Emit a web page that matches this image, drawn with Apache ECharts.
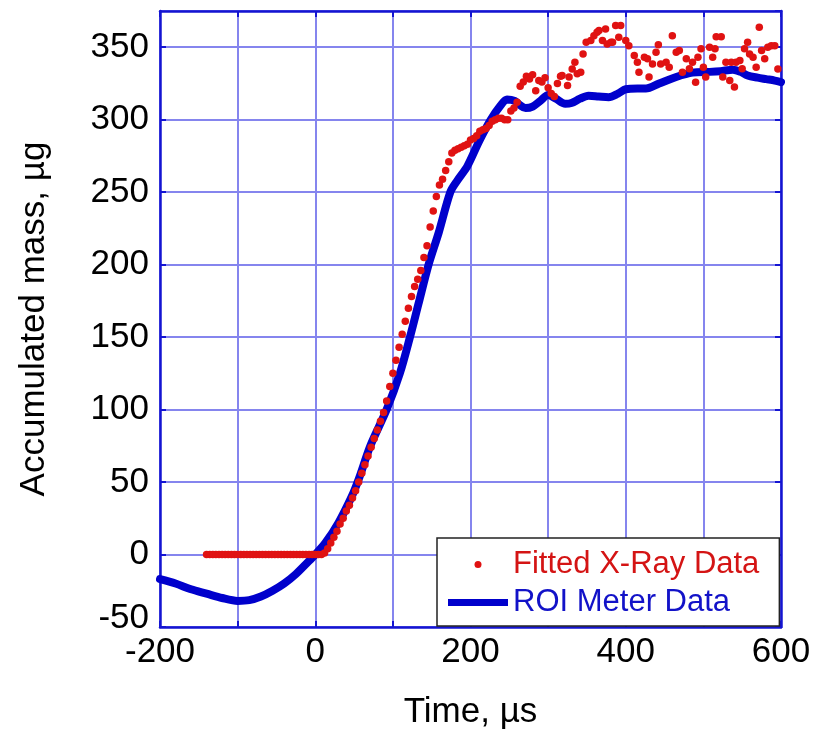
<!DOCTYPE html>
<html>
<head>
<meta charset="utf-8">
<script src="https://cdn.jsdelivr.net/npm/echarts@6/dist/echarts.min.js"></script>
<style>
html,body{margin:0;padding:0;background:#fff;}
#chart{width:817px;height:736px;}
</style>
</head>
<body>
<div id="chart"></div>
<script>
// ROI Meter Data (blue line): time (µs) and accumulated mass (µg)
var roiTime = [-200,-180,-160,-140,-120,-100,-85,-70,-55,-40,-25,-10,0,13,30,47,56,71,92,109,122,133,146,159,174,183,196,211,226,239,247,257,264,271,280,290,300,310,322,330,341,352,365,378,390,400,415,426,443,465,486,508,522,538,548,557,570,581,592,600];
var roiMass = [-17,-20,-24,-27,-30,-32,-31.5,-29,-25,-20,-13.5,-5.5,0,8,22,40,52,75,100,125,150,173,200,222,250,258,268,285,300,310,314,313,310,308,309,313,317,314.5,311,311.5,314.5,316.5,316,315.5,318,321,321.5,321.5,325,329.5,332.5,333,333.5,334.5,333,330.5,329,328,327,326];

// Fitted X-Ray Data (red dots)
var xrayTime = [-140,-136,-132,-128,-124,-120,-116,-112,-108,-104,-100,-96,-92,-88,-84,-80,-76,-72,-68,-64,-60,-56,-52,-48,-44,-40,-36,-32,-28,-24,-20,-16,-12,-8,-4,0,4,8,
  12,16,20,24,28,32,36,40,44,48,52,56,60,64,68,72,76,80,84,88,92,96,100,104,108,112,116,120,124,128,132,136,140,144,148,152,156,160,164,168,172,176,180,184,188,192,196,200,204,208,212,216,220,224,228,232,236,240,244,248,252,256,260,264,268,272,276,280,284,288,292,296,300,304,308,312,316,
  318,325,327,331,334.5,337.5,342,345,349,355,359,363,365.5,370,374,376,381,383,387,391,393.5,400,404,411,415,417,424,428,430,434.5,439,442,445,452,456,460,465,469,473,478,482,486,490,493,497,500,503,508,512,515,516.5,523,525,529,534,536,540,542,547,550,553,557,559.5,564,568,572,575,579,583,587.5,592,596];
var xrayMass = [0,0,0,0,0,0,0,0,0,0,0,0,0,0,0,0,0,0,0,0,0,0,0,0,0,0,0,0,0,0,0,0,0,0,0,0,0,0,
  1,4,8,12,16,21,25,30,34,39,44,50,56,62,68,74,80,86,92,98,106,116,125,134,143,152,161,170,178,185,190,196,205,213,226,237,247,255,259,265,271,277,279,280,281,282,283,286,287,289,292,293,294,296,299,300,301,301,300,300,306,308,312,323,326,330,328,331,320,327,326,329,322,318,316,325,330,
  330.5,323.6,329.4,335,339.7,331.7,332.8,345.4,353.4,354.6,358,360.3,361.5,354.6,362.6,352.3,353.4,353.4,365,356.9,365,354.6,351,344.3,339.7,332.8,343.1,342,329.4,338.5,346.6,351.8,338.5,339.7,336.2,358,346.6,347.7,332.8,342,335.1,339.7,325.9,343.1,348.9,336.2,329.4,350,343.1,348.9,357.3,357.3,329.4,339.7,327,339.7,322.5,339.7,340.8,335.1,348.9,353.4,345.4,343.1,336.2,363.8,347.7,342,350,351.1,351.1,335];

var xTickLabels = [-200, 0, 200, 400, 600];
var yTickLabels = [-50, 0, 50, 100, 150, 200, 250, 300, 350];

var FONT = "'Liberation Sans', Arial, sans-serif";
var FRAME = '#1414d2';
var GRIDC = '#8585ee';
var TICKFS = 35;

var roiData = roiTime.map(function (t, i) { return [t, roiMass[i]]; });
var xrayData = xrayTime.map(function (t, i) { return [t, xrayMass[i]]; });

var chart = echarts.init(document.getElementById('chart'), null, {renderer: 'canvas'});

var baseX = {type: 'value', min: -200, max: 600, interval: 100};
var baseY = {type: 'value', min: -50, max: 375, interval: 50};

chart.setOption({
  animation: false,
  backgroundColor: '#ffffff',
  grid: {left: 160, right: 36, top: 11, bottom: 109, containLabel: false},
  xAxis: [
    Object.assign({}, baseX, {
      position: 'bottom',
      name: 'Time, \u00b5s',
      nameLocation: 'middle',
      nameGap: 68,
      nameTextStyle: {fontFamily: FONT, fontSize: 35, color: '#000'},
      axisLine: {show: true, onZero: false, lineStyle: {color: FRAME, width: 2.5}},
      axisTick: {show: true, inside: true, length: 6, lineStyle: {color: FRAME, width: 2}},
      axisLabel: {
        show: true, margin: 8, fontFamily: FONT, fontSize: TICKFS, color: '#000',
        formatter: function (v) { return xTickLabels.indexOf(v) >= 0 ? String(v) : ''; }
      },
      splitLine: {show: true, lineStyle: {color: GRIDC, width: 2}}
    }),
    Object.assign({}, baseX, {
      position: 'top',
      axisLine: {show: true, onZero: false, lineStyle: {color: FRAME, width: 2.5}},
      axisTick: {show: true, inside: true, length: 6, lineStyle: {color: FRAME, width: 2}},
      axisLabel: {show: false},
      splitLine: {show: false}
    })
  ],
  yAxis: [
    Object.assign({}, baseY, {
      position: 'left',
      name: 'Accumulated mass, \u00b5g',
      nameLocation: 'middle',
      nameGap: 108,
      nameTextStyle: {fontFamily: FONT, fontSize: 35, color: '#000'},
      axisLine: {show: true, onZero: false, lineStyle: {color: FRAME, width: 2.5}},
      axisTick: {show: true, inside: true, length: 6, lineStyle: {color: FRAME, width: 2}},
      axisLabel: {
        show: true, margin: 11, fontFamily: FONT, fontSize: TICKFS, color: '#000',
        showMaxLabel: false,
        formatter: function (v) {
          if (yTickLabels.indexOf(v) < 0) return '';
          return v === yTickLabels[0] ? '{lo|' + v + '}' : String(v);
        },
        rich: {lo: {fontFamily: FONT, fontSize: TICKFS, color: '#000', padding: [0, 0, 18, 0]}}
      },
      splitLine: {show: true, lineStyle: {color: GRIDC, width: 2}}
    }),
    Object.assign({}, baseY, {
      position: 'right',
      axisLine: {show: true, onZero: false, lineStyle: {color: FRAME, width: 2.5}},
      axisTick: {show: true, inside: true, length: 6, lineStyle: {color: FRAME, width: 2}},
      axisLabel: {show: false},
      splitLine: {show: false}
    })
  ],
  legend: {
    show: true,
    orient: 'vertical',
    left: 437,
    top: 538,
    padding: [11, 20, 8, 11],
    itemGap: 7,
    itemWidth: 60,
    itemHeight: 7,
    backgroundColor: '#ffffff',
    borderColor: '#222222',
    borderWidth: 1.5,
    borderRadius: 0,
    textStyle: {fontFamily: FONT, fontSize: 31},
    data: [
      {name: 'Fitted X-Ray Data', icon: 'circle', textStyle: {color: '#d41414'}},
      {name: 'ROI Meter Data', icon: 'rect', textStyle: {color: '#1212c8'}}
    ]
  },
  series: [
    {
      name: 'ROI Meter Data',
      type: 'line',
      xAxisIndex: 0, yAxisIndex: 0,
      data: roiData,
      smooth: 0.3,
      showSymbol: false,
      symbol: 'none',
      lineStyle: {color: '#0000cc', width: 8, cap: 'round', join: 'round'},
      itemStyle: {color: '#0000cc'},
      z: 3
    },
    {
      name: 'Fitted X-Ray Data',
      type: 'scatter',
      xAxisIndex: 0, yAxisIndex: 0,
      data: xrayData,
      symbol: 'circle',
      symbolSize: 7.5,
      itemStyle: {color: '#e01212', opacity: 1},
      z: 4
    }
  ]
});
</script>
</body>
</html>
